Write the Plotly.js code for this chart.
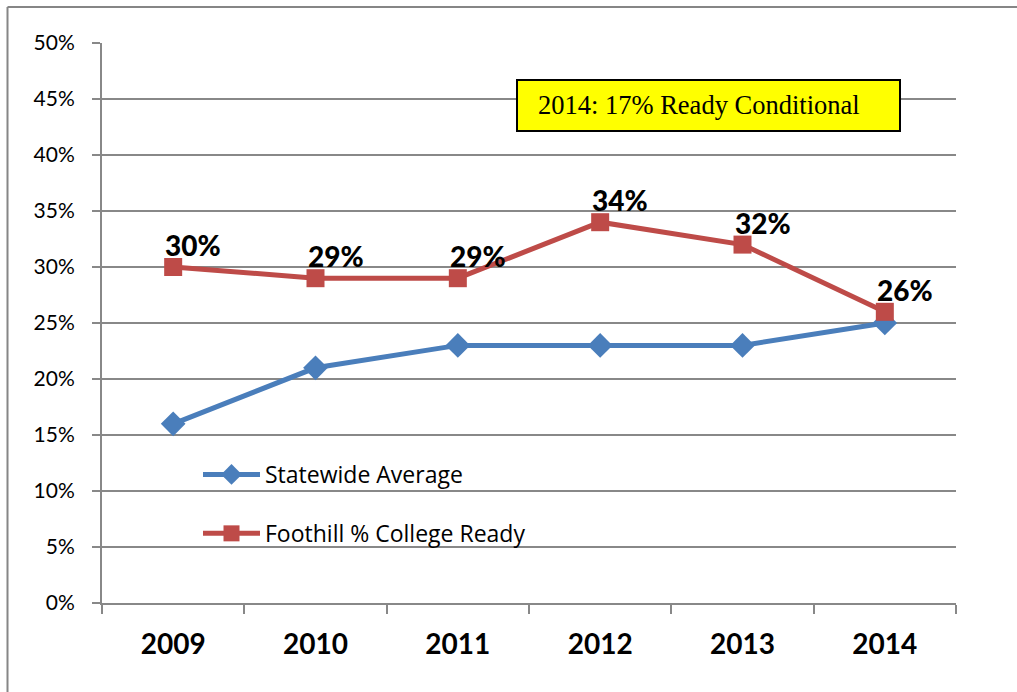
<!DOCTYPE html>
<html>
<head>
<meta charset="utf-8">
<script src="https://cdn.plot.ly/plotly-3.0.1.min.js"></script>
<style>html,body{margin:0;padding:0;background:#fff;}#chart{width:1017px;height:692px;}</style>
</head>
<body>
<div id="chart"></div>
<script>
const years = ["2009", "2010", "2011", "2012", "2013", "2014"];
const statewide = [16, 21, 23, 23, 23, 25];
const foothill = [30, 29, 29, 34, 32, 26];
const foothillLabels = ["30%", "29%", "29%", "34%", "32%", "26%"];
const yTicks = [0, 5, 10, 15, 20, 25, 30, 35, 40, 45, 50];
const noteText = "2014: 17% Ready Conditional";

const grid = "#888888";

const traces = [
  {
    x: years, y: statewide, type: "scatter", mode: "lines+markers",
    name: "Statewide Average", legendgroup: "a",
    line: {color: "#4A7EBB", width: 5},
    marker: {symbol: "diamond", size: 19, color: "#4A7EBB"}
  },
  {
    x: years, y: foothill, type: "scatter", mode: "lines+markers",
    name: "Foothill % College Ready", legendgroup: "b",
    line: {color: "#BE4B48", width: 5},
    marker: {symbol: "square", size: 18, color: "#BE4B48"}
  }
];

const annotations = years.map((yr, i) => ({
  x: i, y: foothill[i], xref: "x", yref: "y",
  text: foothillLabels[i], showarrow: false,
  xshift: 20, yshift: 22,
  font: {family: "Lato, 'Open Sans', sans-serif", size: 28, color: "#000", weight: 900}
}));
annotations.push({
  x: (536 - 102) / 854, y: (603 - 105) / 560, xref: "paper", yref: "paper",
  xanchor: "left", yanchor: "middle", showarrow: false,
  text: noteText,
  font: {family: "'Liberation Serif', 'Times New Roman', serif", size: 26.5, color: "#000"}
});

const shapes = [
  {type: "rect", xref: "paper", yref: "paper",
   x0: (517 - 102) / 854, x1: (900 - 102) / 854,
   y0: (603 - 131) / 560, y1: (603 - 80) / 560,
   fillcolor: "#FFFF00", line: {color: "#000", width: 2}, layer: "above"},
  {type: "line", xref: "paper", yref: "paper",
   x0: (7.5 - 102) / 854, x1: (7.5 - 102) / 854,
   y0: (603 - 700) / 560, y1: (603 - 7) / 560,
   line: {color: "#868686", width: 2}},
  {type: "line", xref: "paper", yref: "paper",
   x0: (7.5 - 102) / 854, x1: (1020 - 102) / 854,
   y0: (603 - 7) / 560, y1: (603 - 7) / 560,
   line: {color: "#868686", width: 2}}
];

const layout = {
  width: 1017, height: 692,
  margin: {l: 102, r: 61, t: 43, b: 89},
  paper_bgcolor: "#fff", plot_bgcolor: "#fff",
  showlegend: true,
  legend: {
    x: (198 - 102) / 854, y: (603 - 453) / 560, xanchor: "left", yanchor: "top",
    bgcolor: "rgba(0,0,0,0)", borderwidth: 0,
    font: {family: "'Open Sans', Lato, sans-serif", size: 23, color: "#000"},
    traceorder: "grouped", tracegroupgap: 26, itemwidth: 57
  },
  xaxis: {
    type: "category", range: [-0.5, 5.5],
    tickson: "boundaries", ticks: "outside", ticklen: 9, tickcolor: grid, tickwidth: 2,
    showline: true, linecolor: grid, linewidth: 2,
    showgrid: false, zeroline: false,
    tickfont: {family: "Lato, 'Open Sans', sans-serif", size: 28, color: "#000", weight: 700},
    ticklabelstandoff: 15
  },
  yaxis: {
    range: [0, 50], tickvals: yTicks, ticktext: yTicks.map(v => v + "%"),
    ticks: "outside", ticklen: 8, tickcolor: grid, tickwidth: 2,
    showline: true, linecolor: grid, linewidth: 2,
    showgrid: true, gridcolor: grid, gridwidth: 1.5, zeroline: false,
    tickfont: {family: "Lato, 'Open Sans', sans-serif", size: 21, color: "#000"},
    ticklabelstandoff: 13
  },
  annotations: annotations,
  shapes: shapes
};

Plotly.newPlot("chart", traces, layout, {displayModeBar: false, staticPlot: true});
</script>
</body>
</html>
